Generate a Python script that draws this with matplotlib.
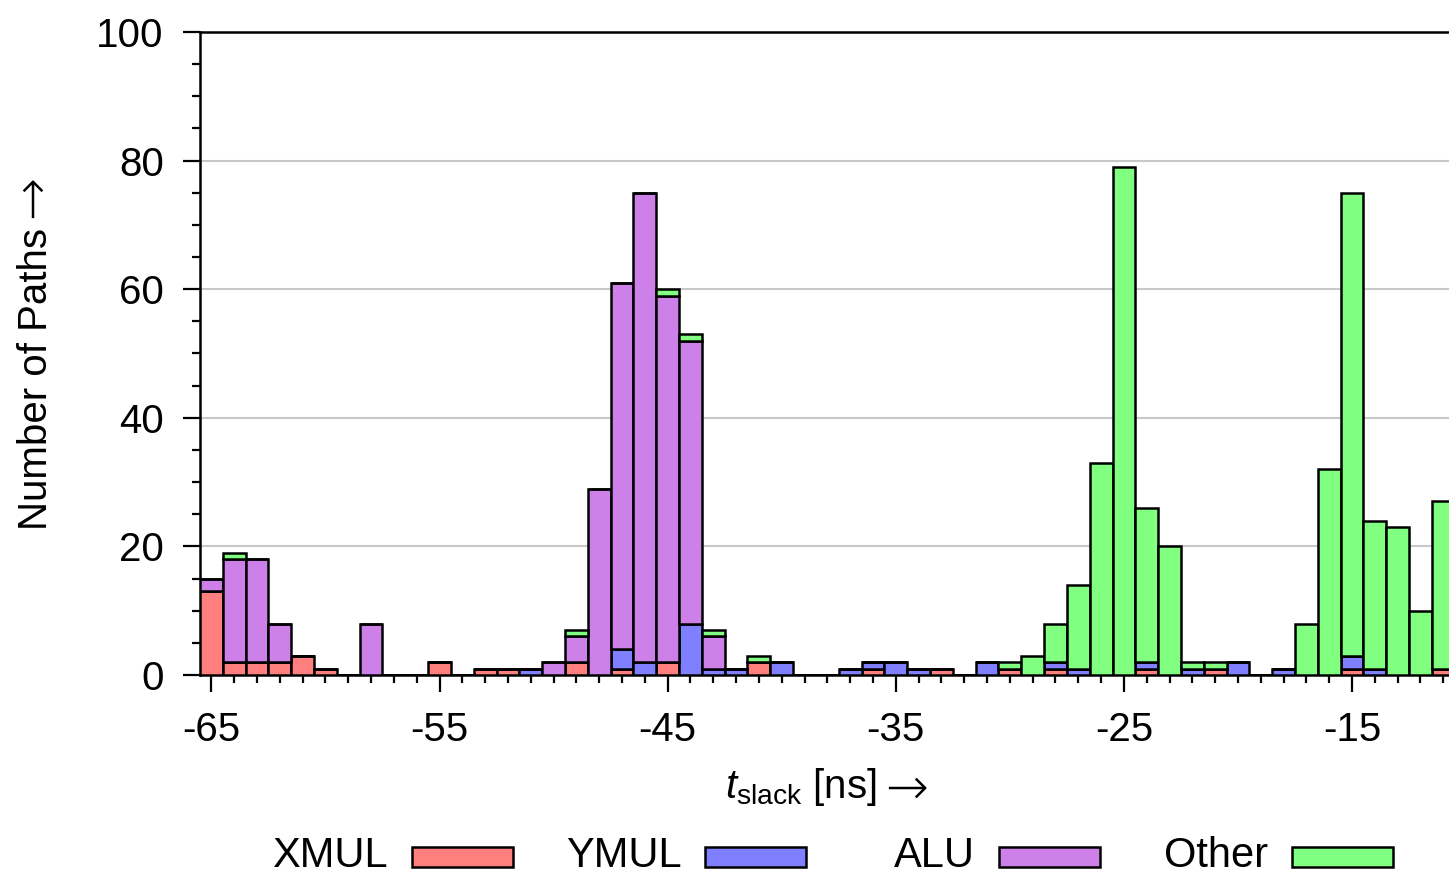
import numpy as np
import matplotlib
matplotlib.use("Agg")
import matplotlib.pyplot as plt
from matplotlib.patches import Rectangle
from matplotlib.ticker import MultipleLocator

plt.rcParams['font.family'] = ['Liberation Sans', 'DejaVu Sans']
plt.rcParams['mathtext.fontset'] = 'custom'
plt.rcParams['mathtext.rm'] = 'Liberation Sans'
plt.rcParams['mathtext.it'] = 'Liberation Sans:italic'

# slack bins (ns), one per integer from -65 to -11
bins = list(range(-65, -10))

xmul = [13, 2, 2, 2, 3, 1, 0, 0, 0, 0,
        2, 0, 1, 1, 0, 0, 2, 0, 1, 0,
        2, 0, 0, 0, 2, 0, 0, 0, 0, 1,
        0, 0, 1, 0, 0, 1, 0, 1, 0, 0,
        0, 1, 0, 0, 1, 0, 0, 0, 0, 0,
        1, 0, 0, 0, 1]
ymul = [0, 0, 0, 0, 0, 0, 0, 0, 0, 0,
        0, 0, 0, 0, 1, 0, 0, 0, 3, 2,
        0, 8, 1, 1, 0, 2, 0, 0, 1, 1,
        2, 1, 0, 0, 2, 0, 0, 1, 1, 0,
        0, 1, 0, 1, 0, 2, 0, 1, 0, 0,
        2, 1, 0, 0, 0]
alu = [2, 16, 16, 6, 0, 0, 0, 8, 0, 0,
       0, 0, 0, 0, 0, 2, 4, 29, 57, 73,
       57, 44, 5, 0, 0, 0, 0, 0, 0, 0,
       0, 0, 0, 0, 0, 0, 0, 0, 0, 0,
       0, 0, 0, 0, 0, 0, 0, 0, 0, 0,
       0, 0, 0, 0, 0]
other = [0, 1, 0, 0, 0, 0, 0, 0, 0, 0,
         0, 0, 0, 0, 0, 0, 1, 0, 0, 0,
         1, 1, 1, 0, 1, 0, 0, 0, 0, 0,
         0, 0, 0, 0, 0, 1, 3, 6, 13, 33,
         79, 24, 20, 1, 1, 0, 0, 0, 8, 32,
         72, 23, 23, 10, 26]

series_names = ['XMUL', 'YMUL', 'ALU', 'Other']
series_colors = ['#ff7f7f', '#7f7fff', '#cc80e8', '#80ff80']
series = [xmul, ymul, alu, other]

x_major_ticks = [-65, -55, -45, -35, -25, -15]
y_major_ticks = [0, 20, 40, 60, 80, 100]

W, H = 1449, 874
fig = plt.figure(figsize=(W / 100, H / 100), dpi=100)
ax = fig.add_axes([0.138, 0.2277, 0.862, 0.7357])


def fx(px):
    return px / W


def fy(py):
    return 1 - py / H


bottom = np.zeros(len(bins))
for vals, col in zip(series, series_colors):
    v = np.array(vals, dtype=float)
    ax.bar(bins, v, width=1.0, bottom=bottom, color=col, edgecolor='black',
           linewidth=1.8, zorder=3, align='center')
    bottom += v

ax.set_xlim(-65.5, -10.75)
ax.set_ylim(0, 100)
ax.set_xticks(x_major_ticks)
ax.set_xticklabels([str(t) for t in x_major_ticks])
ax.xaxis.set_minor_locator(MultipleLocator(1))
ax.set_yticks(y_major_ticks)
ax.yaxis.set_minor_locator(MultipleLocator(5))

ax.tick_params(axis='both', which='major', direction='out', length=12, width=1.6,
               labelsize=29, color='black')
ax.tick_params(axis='both', which='minor', direction='out', length=6, width=1.6)
ax.tick_params(axis='x', which='major', pad=14)
ax.tick_params(axis='y', which='major', pad=14)

for s in ['left', 'bottom', 'top']:
    ax.spines[s].set_linewidth(1.8)
ax.spines['right'].set_visible(False)

for yv in [20, 40, 60, 80]:
    ax.axhline(yv, color='#c8c8c8', linewidth=1.5, zorder=1)

# axis labels (text + long arrow)
fig.text(fx(877), fy(787), r'$t_{\mathrm{slack}}$ [ns]', fontsize=29,
         ha='right', va='center')
fig.text(fx(885), fy(789), '\u2192', fontsize=37, family='DejaVu Sans',
         fontweight='light', ha='left', va='center')
fig.text(fx(36), fy(530), 'Number of Paths', fontsize=29, rotation=90,
         ha='center', va='bottom')
fig.text(fx(33), fy(218), '\u2192', fontsize=37, family='DejaVu Sans',
         fontweight='light', rotation=90, ha='center', va='bottom')

# legend: right-justified labels with swatches, equal-width columns
col_step = 293.3
for i, (name, col) in enumerate(zip(series_names, series_colors)):
    x0 = 388 + i * col_step
    fig.text(fx(x0), fy(867), name, fontsize=30, ha='right', va='baseline')
    sx = 412 + i * col_step
    fig.patches.append(Rectangle((fx(sx), fy(867)), fx(101), 20 / H,
                                 transform=fig.transFigure, facecolor=col,
                                 edgecolor='black', linewidth=1.8))

fig.savefig('out.png', dpi=100)
